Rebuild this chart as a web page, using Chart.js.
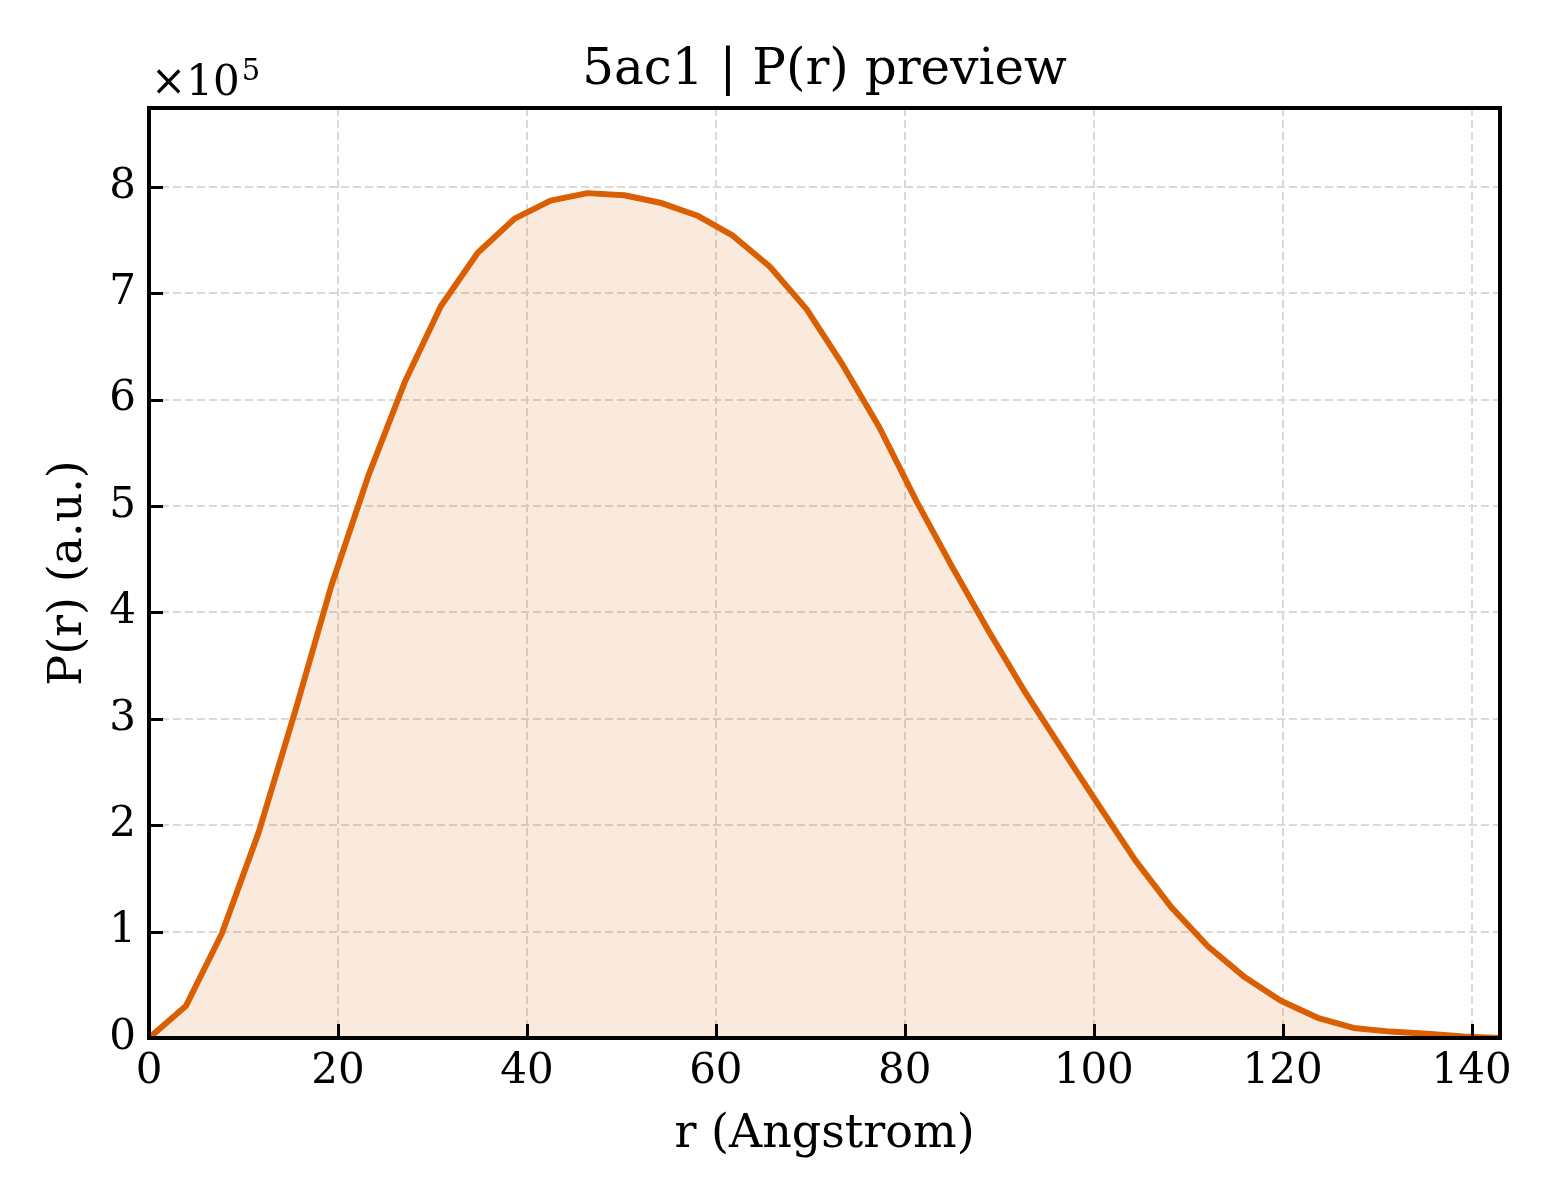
<!DOCTYPE html>
<html>
<head>
<meta charset="utf-8">
<title>5ac1 | P(r) preview</title>
<script src="https://cdn.jsdelivr.net/npm/chart.js@4.4.1/dist/chart.umd.min.js"></script>
<style>
  html, body { margin: 0; padding: 0; background: #ffffff; }
  #wrap { width: 1560px; height: 1200px; }
</style>
</head>
<body>
<div id="wrap"><canvas id="prChart" width="1560" height="1200"></canvas></div>
<script>
const rValues = [0, 3.9, 7.7, 11.6, 15.5, 19.3, 23.2, 27.1, 30.9, 34.8,
                 38.7, 42.5, 46.4, 50.3, 54.1, 58.0, 61.8, 65.7, 69.6, 73.4,
                 77.3, 81.2, 85.0, 88.9, 92.8, 96.6, 100.5, 104.4, 108.2, 112.1,
                 116.0, 119.8, 123.7, 127.5, 131.4, 135.3, 139.1, 143.0];
const prValues = [0, 30000, 98000, 193000, 308000, 425000, 528000, 617000, 688000, 738000,
                  770000, 787000, 794000, 792000, 785000, 773000, 754000, 725000, 685000, 633000,
                  574000, 505000, 443000, 382000, 324000, 272000, 219000, 167000, 123000, 86000,
                  57000, 35000, 19000, 9500, 6000, 4000, 1500, 0];

const xTicks = [0, 20, 40, 60, 80, 100, 120, 140];
const yTicks = [0, 100000, 200000, 300000, 400000, 500000, 600000, 700000, 800000];
const xMax = 143;
const yMax = 874000;

const lineColor = '#d95f02';
const serif = "'DejaVu Serif', 'Liberation Serif', serif";

Chart.defaults.font.family = serif;
Chart.defaults.color = '#000000';

// frame, inward ticks and the x10^5 offset label
const framePlugin = {
    id: 'frame',
    afterDraw(chart) {
        const ctx = chart.ctx;
        const a = chart.chartArea;
        const xs = chart.scales.x, ys = chart.scales.y;
        ctx.save();
        ctx.strokeStyle = '#000000';
        ctx.lineWidth = 3;
        for (const t of xTicks) {
            const px = Math.round(xs.getPixelForValue(t)) + 0.5;
            ctx.beginPath();
            ctx.moveTo(px, a.bottom);
            ctx.lineTo(px, a.bottom - 14);
            ctx.stroke();
        }
        for (const t of yTicks) {
            const py = Math.round(ys.getPixelForValue(t)) + 0.5;
            ctx.beginPath();
            ctx.moveTo(a.left, py);
            ctx.lineTo(a.left + 14, py);
            ctx.stroke();
        }
        ctx.lineWidth = 4;
        ctx.strokeRect(a.left, a.top, a.right - a.left, a.bottom - a.top);

        ctx.fillStyle = '#000000';
        ctx.textBaseline = 'alphabetic';
        ctx.textAlign = 'left';
        ctx.font = '42px ' + serif;
        ctx.fillText('\u00d710', a.left + 2, a.top - 13);
        const w = ctx.measureText('\u00d710').width;
        ctx.font = '29px ' + serif;
        ctx.fillText('5', a.left + 4 + w, a.top - 28);
        ctx.restore();
    }
};

const ctx = document.getElementById('prChart');
const prChart = new Chart(ctx, {
    type: 'line',
    data: {
        datasets: [{
            data: rValues.map((r, i) => ({ x: r, y: prValues[i] })),
            borderColor: lineColor,
            borderWidth: 6,
            backgroundColor: 'rgba(217,95,2,0.13)',
            fill: 'origin',
            pointRadius: 0,
            tension: 0,
            borderJoinStyle: 'round'
        }]
    },
    options: {
        responsive: false,
        devicePixelRatio: 1,
        animation: false,
        layout: { padding: { top: 0, right: 60, bottom: 0, left: 0 } },
        plugins: {
            legend: { display: false },
            tooltip: { enabled: false },
            title: {
                display: true,
                fullSize: false,
                text: '5ac1 | P(r) preview',
                font: { size: 50, weight: 'normal', family: serif },
                color: '#000000',
                padding: { top: 41, bottom: 7 }
            }
        },
        scales: {
            x: {
                type: 'linear',
                min: 0,
                max: xMax,
                afterBuildTicks: (scale) => { scale.ticks = xTicks.map(v => ({ value: v })); },
                afterFit: (scale) => { scale.height = 162; },
                ticks: {
                    font: { size: 42 },
                    padding: 9,
                    maxRotation: 0,
                    callback: (v) => String(v)
                },
                grid: { color: '#d9d9d9', lineWidth: 2, drawTicks: false },
                border: { display: false, dash: [8, 4] },
                title: {
                    display: true,
                    text: 'r (Angstrom)',
                    font: { size: 46 },
                    padding: { top: 0, bottom: 37 }
                }
            },
            y: {
                type: 'linear',
                min: 0,
                max: yMax,
                afterBuildTicks: (scale) => { scale.ticks = yTicks.map(v => ({ value: v })); },
                afterFit: (scale) => { scale.width = 149; },
                ticks: {
                    font: { size: 42 },
                    padding: 13,
                    callback: (v) => String(Math.round(v / 100000))
                },
                grid: { color: '#d9d9d9', lineWidth: 2, drawTicks: false },
                border: { display: false, dash: [8, 4] },
                title: {
                    display: true,
                    text: 'P(r) (a.u.)',
                    font: { size: 46 },
                    padding: { top: 41, bottom: 0 }
                }
            }
        }
    },
    plugins: [framePlugin]
});
</script>
</body>
</html>
